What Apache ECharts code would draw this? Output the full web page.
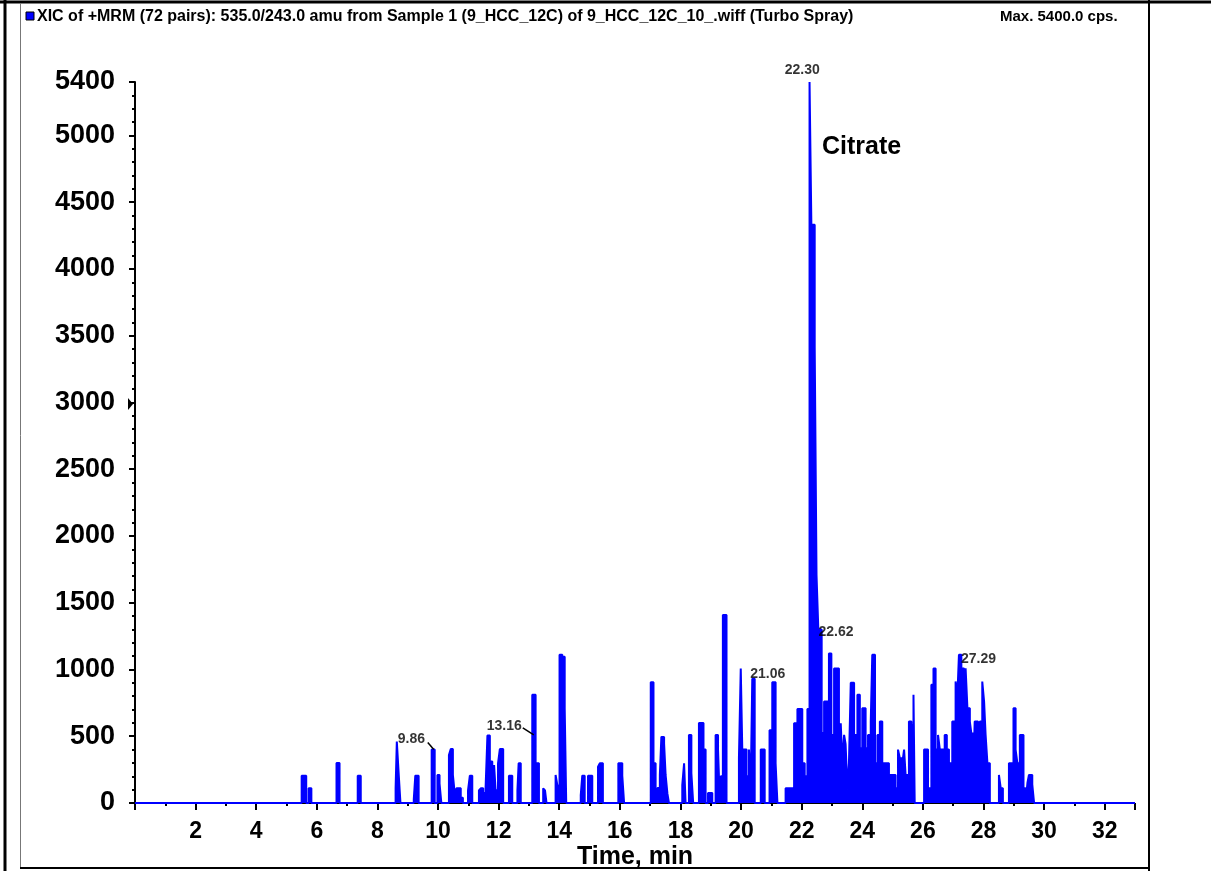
<!DOCTYPE html>
<html>
<head>
<meta charset="utf-8">
<script src="https://cdn.jsdelivr.net/npm/echarts@6/dist/echarts.min.js"></script>
<style>
  html, body { margin: 0; padding: 0; background: #ffffff; }
  #chart { width: 1211px; height: 871px; }
</style>
</head>
<body>
<div id="chart"></div>
<script>
// XIC trace: each entry starts a segment (retention time, min) held until the next one
const rtStart = [
  0,
  5.50, 5.65, 5.73, 5.82, 6.65, 6.75, 7.35, 7.45,
  8.60, 8.64, 8.70, 8.76, 9.20, 9.25, 9.36, 9.79, 9.89,
  9.98, 10.05, 10.11, 10.36, 10.42, 10.49, 10.55, 10.61, 10.75, 10.82,
  10.99, 11.05, 11.13,
  11.35, 11.41, 11.49, 11.57, 11.63, 11.71, 11.79, 11.85, 11.90, 11.98, 12.04, 12.15,
  12.34, 12.45, 12.62, 12.66, 12.73,
  13.11, 13.22, 13.33, 13.47, 13.53, 13.58,
  13.88, 13.94, 14.01, 14.10, 14.18, 14.23,
  14.71, 14.76, 14.84, 14.95, 15.09, 15.28, 15.34, 15.44, 15.95, 16.08, 16.14,
  17.02, 17.11, 17.18,
  17.24, 17.32, 17.37, 17.46, 17.51, 17.57, 17.62,
  18.06, 18.12, 18.17, 18.28, 18.36, 18.42, 18.61, 18.76, 18.83, 18.91, 19.05,
  19.16, 19.24, 19.30, 19.33, 19.40, 19.52,
  19.93, 19.99, 20.04, 20.18, 20.26, 20.32, 20.37, 20.45,
  20.65, 20.78, 20.94, 21.03, 21.14, 21.20,
  21.47, 21.75, 21.86, 22.02, 22.10, 22.19, 22.26, 22.32, 22.43, 22.49, 22.55, 22.66,
  22.74, 22.90, 22.98, 23.07, 23.23,
  23.29, 23.34, 23.40, 23.45, 23.51, 23.56, 23.62, 23.73, 23.84, 23.92, 24.00, 24.11,
  24.19, 24.28, 24.33, 24.42, 24.50, 24.58, 24.66, 24.88, 25.10, 25.18, 25.24, 25.32,
  25.38, 25.43, 25.54, 25.62, 25.69, 25.73,
  26.04, 26.17, 26.28, 26.35, 26.42, 26.50, 26.56, 26.72, 26.79, 26.86, 26.97, 27.08,
  27.14, 27.19, 27.27, 27.36, 27.41, 27.47, 27.55, 27.60, 27.67, 27.71, 27.82, 27.88,
  27.96, 28.02, 28.07, 28.13, 28.21,
  28.51, 28.57, 28.64, 28.84, 28.99, 29.06, 29.12, 29.20, 29.32, 29.39,
  29.45, 29.50, 29.61, 29.67,
  33
];
// Intensity of each segment, cps
const cps = [
  0,
  205, 0, 110, 0, 300, 0, 205, 0,
  110, 460, 225, 0, 30, 205, 0, 400, 0,
  210, 145, 0, 360, 405, 210, 75, 110, 40, 0,
  95, 205, 0,
  95, 110, 75, 115, 505, 310, 210, 285, 95, 297, 404, 0,
  205, 0, 95, 297, 0,
  810, 297, 0, 110, 95, 0,
  210, 130, 1110, 1095, 710, 0,
  60, 205, 0, 205, 0, 272, 297, 0, 297, 205, 0,
  905, 297, 0,
  112, 210, 495, 445, 210, 70, 0,
  135, 297, 0, 510, 225, 0, 600, 400, 0, 75, 0,
  510, 400, 0, 200, 1408, 0,
  337, 1008, 400, 200, 400, 150, 930, 0,
  400, 0, 545, 905, 297, 0,
  110, 597, 704, 297, 200, 704, 5400, 4330, 3415, 1708, 1300, 524,
  760, 1120, 510, 1008, 510,
  597, 297, 510, 440, 100, 297, 900, 510, 810, 410, 710, 410,
  510, 610, 1110, 297, 510, 610, 297, 210, 110, 400, 335, 297,
  400, 210, 610, 585, 810, 0,
  400, 110, 885, 1008, 400, 510, 400, 510, 400, 297, 610, 910,
  810, 1110, 1008, 920, 1008, 710, 610, 520, 297, 610, 510, 610,
  910, 760, 510, 297, 0,
  210, 110, 0, 297, 710, 400, 297, 510, 110, 0,
  150, 210, 140, 0,
  0
];

// Retention-time labels and the level on each peak they point at
const peakRT = [9.86, 13.16, 21.06, 22.30, 22.62, 27.29];
const peakLevel = [400, 510, 905, 5400, 1300, 1110];

const xTickInterval = 2;
const yTickInterval = 500;

const titleText = 'XIC of +MRM (72 pairs): 535.0/243.0 amu from Sample 1 (9_HCC_12C) of 9_HCC_12C_10_.wiff (Turbo Spray)';
const maxText = 'Max. 5400.0 cps.';
const compoundName = 'Citrate';

// label placement: [dx, dy] of the label's bottom-left corner from its peak,
// and where a leader line starts (relative to the peak), if the label has one
const labelPlacement = [
  { off: [-36, -3], leader: [-6, -7] },
  { off: [-47, -2], leader: [-11, -7] },
  { off: [-23, -1], leader: null },
  { off: [-26, -5], leader: null },
  { off: [-2, 10], leader: null },
  { off: [-1, 11], leader: null }
];

const FONT = '"Liberation Sans", Arial, sans-serif';
const chart = echarts.init(document.getElementById('chart'), null, { renderer: 'canvas' });

const traceData = rtStart.map((t, i) => [t, cps[i]]);
const labelData = peakRT.map((t, i) => ({
  value: [t, peakLevel[i]],
  label: {
    position: labelPlacement[i].off,
    align: 'left',
    verticalAlign: 'bottom'
  }
}));

const frameGraphics = [
  // window frame
  { type: 'line', shape: { x1: 0, y1: 2, x2: 1211, y2: 2 }, style: { stroke: '#000', lineWidth: 3 }, silent: true },
  { type: 'line', shape: { x1: 5, y1: 0, x2: 5, y2: 871 }, style: { stroke: '#000', lineWidth: 3 }, silent: true },
  { type: 'line', shape: { x1: 20.5, y1: 3, x2: 20.5, y2: 868 }, style: { stroke: '#777', lineWidth: 1 }, silent: true },
  { type: 'line', shape: { x1: 1149, y1: 0, x2: 1149, y2: 871 }, style: { stroke: '#000', lineWidth: 2 }, silent: true },
  { type: 'line', shape: { x1: 20, y1: 868, x2: 1150, y2: 868 }, style: { stroke: '#000', lineWidth: 2 }, silent: true },
  // trace key
  { type: 'rect', shape: { x: 26, y: 12, width: 8, height: 8 }, style: { fill: '#0000ff', stroke: '#000', lineWidth: 1 }, silent: true },
  {
    type: 'text', left: 37, top: 9, silent: true,
    style: { text: titleText, font: 'bold 16px ' + FONT, fill: '#000' }
  },
  {
    type: 'text', left: 1000, top: 9, silent: true,
    style: { text: maxText, font: 'bold 15px ' + FONT, fill: '#000' }
  },
  {
    type: 'text', left: 822, top: 135, silent: true,
    style: { text: compoundName, font: 'bold 25px ' + FONT, fill: '#000' }
  },
  // cursor marker on the intensity axis
  { type: 'polygon', shape: { points: [[128, 398], [133, 404], [128, 410]] }, style: { fill: '#000' }, silent: true }
];

const option = {
  animation: false,
  backgroundColor: '#ffffff',
  grid: { left: 135, right: 76, top: 82, bottom: 68, containLabel: false, outerBoundsMode: 'none' },
  xAxis: {
    type: 'value',
    min: 0,
    max: 33,
    interval: xTickInterval,
    name: 'Time, min',
    nameLocation: 'middle',
    nameGap: 42,
    nameMoveOverlap: false,
    nameTextStyle: { fontFamily: FONT, fontWeight: 'bold', fontSize: 25, color: '#000', letterSpacing: -1 },
    axisLine: { show: true, lineStyle: { color: '#000', width: 1 } },
    axisTick: { show: true, length: 7, lineStyle: { color: '#000', width: 2 } },
    minorTick: { show: true, splitNumber: 2, length: 3, lineStyle: { color: '#000', width: 2 } },
    axisLabel: {
      showMinLabel: false,
      showMaxLabel: false,
      margin: 17,
      fontFamily: FONT,
      fontWeight: 'bold',
      fontSize: 23,
      color: '#000',
      letterSpacing: -1
    },
    splitLine: { show: false }
  },
  yAxis: {
    type: 'value',
    min: 0,
    max: 5400,
    interval: yTickInterval,
    axisLine: { show: true, lineStyle: { color: '#000', width: 2 } },
    axisTick: { show: true, length: 6, lineStyle: { color: '#000', width: 2 } },
    minorTick: { show: true, splitNumber: 5, length: 3, lineStyle: { color: '#000', width: 2 } },
    axisLabel: {
      margin: 20,
      formatter: v => String(v),
      fontFamily: FONT,
      fontWeight: 'bold',
      fontSize: 27,
      color: '#000',
      letterSpacing: 0.5
    },
    splitLine: { show: false }
  },
  series: [
    {
      type: 'line',
      data: traceData,
      step: 'end',
      symbol: 'none',
      silent: true,
      lineStyle: { color: '#0000ff', width: 2 },
      areaStyle: { color: '#0000ff', opacity: 1 },
      z: 3
    },
    {
      type: 'scatter',
      data: labelData,
      symbolSize: 0,
      silent: true,
      z: 5,
      label: {
        show: true,
        formatter: p => p.value[0].toFixed(2),
        fontFamily: FONT,
        fontWeight: 'bold',
        fontSize: 14,
        color: '#000',
        letterSpacing: -2
      }
    }
  ],
  graphic: frameGraphics
};

chart.setOption(option);

// leader lines from the offset labels to their peaks, placed through the axis scales
const leaders = [];
peakRT.forEach((t, i) => {
  const lead = labelPlacement[i].leader;
  if (!lead) return;
  const p = chart.convertToPixel({ gridIndex: 0 }, [t, peakLevel[i]]);
  leaders.push({
    type: 'line', silent: true, z: 10,
    shape: { x1: p[0] + lead[0], y1: p[1] + lead[1], x2: p[0], y2: p[1] },
    style: { stroke: '#000', lineWidth: 1.5 }
  });
});
chart.setOption({ graphic: frameGraphics.concat(leaders) });
</script>
</body>
</html>
